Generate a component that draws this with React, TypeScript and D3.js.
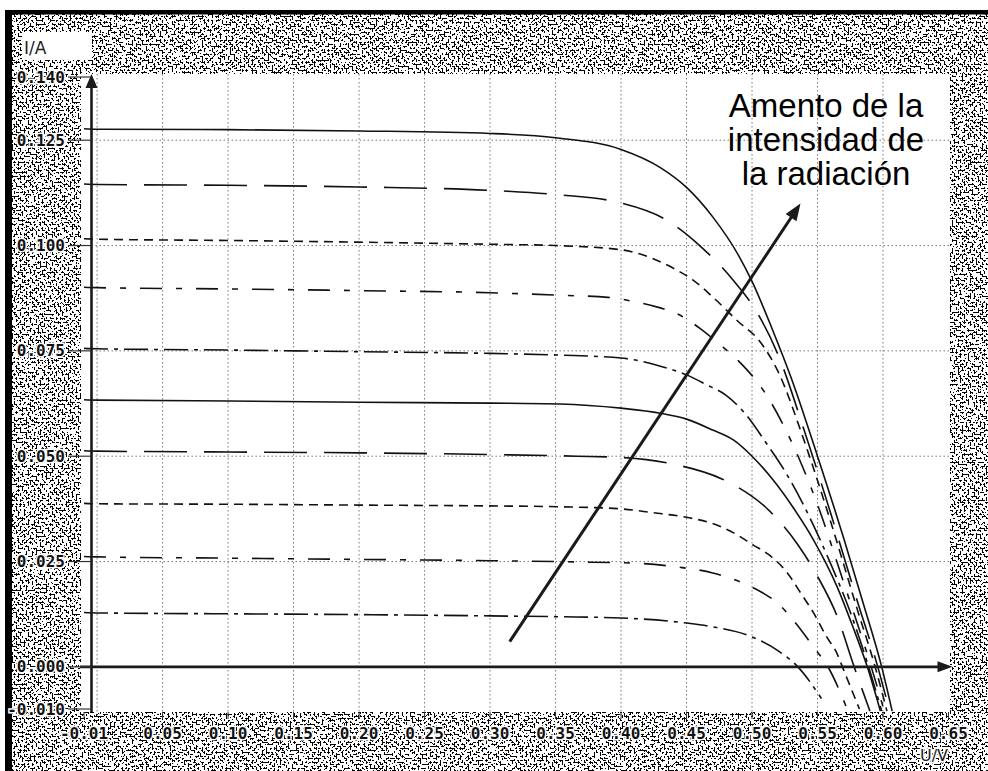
import React from "react";
import * as d3 from "d3";

const W = 988;
const H = 771;

// I-V curves of one cell at ten irradiance levels (U in V, I in A)
const curve1 = [[-0.01, 0.1277], [0, 0.1276], [0.1, 0.1275], [0.2, 0.1272], [0.3, 0.1266], [0.35, 0.1256], [0.4, 0.1228], [0.43, 0.1185], [0.45, 0.1138], [0.47, 0.1068], [0.49, 0.0975], [0.5, 0.0915], [0.515, 0.0805], [0.53, 0.0685], [0.55, 0.05], [0.57, 0.0305], [0.585, 0.015], [0.599, 0], [0.607, -0.0105]];
const curve2 = [[-0.01, 0.1146], [0, 0.1145], [0.1, 0.1143], [0.2, 0.1139], [0.3, 0.1131], [0.35, 0.1121], [0.4, 0.1101], [0.435, 0.106], [0.46, 0.1], [0.485, 0.092], [0.505, 0.0835], [0.52, 0.074], [0.54, 0.056], [0.56, 0.0365], [0.58, 0.016], [0.596, 0], [0.605, -0.0105]];
const curve3 = [[-0.01, 0.1016], [0, 0.1015], [0.1, 0.1012], [0.2, 0.1008], [0.3, 0.1003], [0.35, 0.1], [0.4, 0.099], [0.425, 0.0968], [0.44, 0.0946], [0.455, 0.0918], [0.47, 0.0878], [0.49, 0.0818], [0.505, 0.0776], [0.52, 0.07], [0.54, 0.0535], [0.56, 0.0345], [0.58, 0.014], [0.594, 0], [0.603, -0.0105]];
const curve4 = [[-0.01, 0.0901], [0, 0.09], [0.1, 0.0897], [0.2, 0.0893], [0.3, 0.0888], [0.353, 0.0882], [0.39, 0.0877], [0.41, 0.0867], [0.43, 0.0852], [0.44, 0.0842], [0.46, 0.0804], [0.475, 0.0766], [0.49, 0.0725], [0.51, 0.065], [0.53, 0.0535], [0.55, 0.0385], [0.57, 0.02], [0.591, 0], [0.601, -0.0105]];
const curve5 = [[-0.01, 0.0756], [0, 0.0755], [0.1, 0.0752], [0.2, 0.0748], [0.3, 0.0744], [0.353, 0.074], [0.4, 0.0733], [0.435, 0.0709], [0.45, 0.0693], [0.465, 0.067], [0.48, 0.0645], [0.495, 0.06], [0.51, 0.0535], [0.525, 0.0465], [0.54, 0.038], [0.56, 0.0245], [0.575, 0.013], [0.589, 0], [0.599, -0.0105]];
const curve6 = [[-0.01, 0.0634], [0, 0.0633], [0.1, 0.0631], [0.2, 0.0628], [0.3, 0.0626], [0.353, 0.0624], [0.4, 0.0614], [0.43, 0.0602], [0.45, 0.0588], [0.47, 0.0562], [0.486, 0.0538], [0.5, 0.05], [0.516, 0.0444], [0.531, 0.038], [0.547, 0.0301], [0.565, 0.019], [0.577, 0.0095], [0.588, 0], [0.598, -0.0105]];
const curve7 = [[-0.01, 0.0513], [0, 0.0512], [0.1, 0.051], [0.2, 0.0508], [0.3, 0.0504], [0.366, 0.05], [0.4, 0.0497], [0.44, 0.0481], [0.477, 0.0446], [0.49, 0.0425], [0.51, 0.038], [0.535, 0.029], [0.55, 0.0215], [0.565, 0.012], [0.578, 0], [0.59, -0.0105]];
const curve8 = [[-0.01, 0.0388], [0, 0.0387], [0.1, 0.0386], [0.2, 0.0384], [0.3, 0.0382], [0.353, 0.038], [0.4, 0.0375], [0.424, 0.0366], [0.45, 0.0355], [0.468, 0.0342], [0.486, 0.0318], [0.501, 0.0289], [0.512, 0.0268], [0.527, 0.0223], [0.537, 0.0176], [0.547, 0.0128], [0.557, 0.0071], [0.565, 0.0031], [0.569, 0], [0.582, -0.01]];
const curve9 = [[-0.01, 0.0262], [0, 0.0261], [0.1, 0.0258], [0.2, 0.0255], [0.3, 0.0252], [0.366, 0.0249], [0.412, 0.0246], [0.443, 0.0237], [0.47, 0.0223], [0.493, 0.0199], [0.508, 0.0176], [0.52, 0.015], [0.529, 0.012], [0.539, 0.0081], [0.547, 0.0047], [0.558, 0], [0.572, -0.0095]];
const curve10 = [[-0.01, 0.0129], [0, 0.0128], [0.1, 0.0126], [0.2, 0.0124], [0.3, 0.0121], [0.353, 0.0119], [0.4, 0.0116], [0.45, 0.0104], [0.47, 0.0095], [0.5, 0.0071], [0.52, 0.0038], [0.535, 0], [0.553, -0.0075]];

const curves = [curve1, curve2, curve3, curve4, curve5, curve6, curve7, curve8, curve9, curve10];
const dashes = ["", "43,17", "9,6", "22,14,6,14", "24,6,4,6", "", "43,17", "9,6", "22,14,6,14", "24,6,4,6"];

const xTickVals = [-0.01, 0.05, 0.1, 0.15, 0.2, 0.25, 0.3, 0.35, 0.4, 0.45, 0.5, 0.55, 0.6, 0.65];
const xTickLabels = ["-0.01", "0.05", "0.10", "0.15", "0.20", "0.25", "0.30", "0.35", "0.40", "0.45", "0.50", "0.55", "0.60", "0.65"];
const xGrid = [0, 0.05, 0.1, 0.15, 0.2, 0.25, 0.3, 0.35, 0.4, 0.45, 0.5, 0.55, 0.6];
const yTickVals = [-0.01, 0, 0.025, 0.05, 0.075, 0.1, 0.125, 0.14];
const yTickLabels = ["-0.010", "0.000", "0.025", "0.050", "0.075", "0.100", "0.125", "0.140"];
const yGrid = [0.025, 0.05, 0.075, 0.1, 0.125];

const arrowPts = [[0.315, 0.006], [0.537, 0.110]];
const noteLines = ["Amento de la", "intensidad de", "la radiación"];
const noteAt = [0.5565, 0.1305];

const box = { left: 81, top: 74, right: 950, bottom: 712 };

const App = () => {
  const x = d3.scaleLinear().domain([-0.01, 0.65]).range([84, 948.5]);
  const y = d3.scaleLinear().domain([-0.01, 0.14]).range([709, 77]);

  const line = d3
    .line<number[]>()
    .x((d) => x(d[0]))
    .y((d) => y(d[1]))
    .curve(d3.curveMonotoneX);

  const axisX = 91.5;
  const tickFont = "DejaVu Sans Mono, monospace";

  // annotation arrow head
  const [a0, a1] = arrowPts;
  const ax0 = x(a0[0]), ay0 = y(a0[1]), ax1 = x(a1[0]), ay1 = y(a1[1]);
  const ang = Math.atan2(ay1 - ay0, ax1 - ax0);
  const hl = 17, hw = 6.5;
  const head = [
    [ax1, ay1],
    [ax1 - hl * Math.cos(ang) + hw * Math.sin(ang), ay1 - hl * Math.sin(ang) - hw * Math.cos(ang)],
    [ax1 - hl * Math.cos(ang) - hw * Math.sin(ang), ay1 - hl * Math.sin(ang) + hw * Math.cos(ang)],
  ];

  return (
    <svg width={W} height={H} style={{ position: "absolute", left: 0, top: 0 }}>
      <defs>
        <filter id="scan" x="0" y="0" width="1" height="1" colorInterpolationFilters="sRGB">
          <feTurbulence type="fractalNoise" baseFrequency="0.5" numOctaves="3" seed="7" result="t" />
          <feColorMatrix in="t" type="matrix" values="0 0 0 0 0  0 0 0 0 0  0 0 0 0 0  -4 0 0 0 2.36" result="a" />
          <feComponentTransfer in="a">
            <feFuncA type="discrete" tableValues="0 1" />
          </feComponentTransfer>
        </filter>
        <clipPath id="plot">
          <rect x={box.left} y={box.top} width={box.right - box.left} height={box.bottom - box.top} />
        </clipPath>
      </defs>

      <rect width={W} height={H} fill="#fff" />
      <rect x={12} y={14} width={W - 12} height={H - 14} fill="#111" filter="url(#scan)" />
      <rect x={5} y={10} width={W - 5} height={4.5} fill="#000" />
      <rect x={5} y={10} width={7} height={H - 10} fill="#000" />

      <rect x={box.left} y={box.top} width={box.right - box.left} height={box.bottom - box.top} fill="#fff" />

      {/* grid */}
      <g stroke="#555" strokeWidth={1} strokeDasharray="1.5,2.5" opacity={0.8}>
        {xGrid.map((v) => (
          <line key={"gx" + v} x1={x(v)} x2={x(v)} y1={box.top} y2={box.bottom + 6} />
        ))}
        {yGrid.map((v) => (
          <line key={"gy" + v} x1={axisX} x2={box.right} y1={y(v)} y2={y(v)} />
        ))}
      </g>

      {/* curves */}
      <g clipPath="url(#plot)" fill="none" stroke="#111" strokeWidth={1.6}>
        {curves.map((c, i) => (
          <path key={i} d={line(c) || ""} strokeDasharray={dashes[i] || undefined} />
        ))}
      </g>

      {/* axes */}
      <g stroke="#1a1a1a" strokeWidth={2.6}>
        <line x1={axisX} x2={axisX} y1={box.bottom} y2={y(0.14) + 8} />
        <line x1={box.left - 1} x2={x(0.65) - 10} y1={y(0)} y2={y(0)} />
      </g>
      <path d={`M${axisX},${y(0.14) - 3} L${axisX - 6},${y(0.14) + 11} L${axisX + 6},${y(0.14) + 11} Z`} fill="#1a1a1a" />
      <path d={`M${x(0.65) + 4},${y(0)} L${x(0.65) - 11},${y(0) - 5.5} L${x(0.65) - 11},${y(0) + 5.5} Z`} fill="#1a1a1a" />

      {/* y ticks and labels */}
      {yTickVals.map((v, i) => (
        <g key={"yt" + v}>
          <line x1={68} x2={axisX} y1={y(v)} y2={y(v)} stroke="#333" strokeWidth={1.2} />
          <text
            x={65}
            y={y(v) + 5.5}
            textAnchor="end"
            fontFamily={tickFont}
            fontSize={16}
            fontWeight="bold"
            fill="#111"
            stroke="#fff"
            strokeWidth={3}
            paintOrder="stroke"
          >
            {yTickLabels[i]}
          </text>
        </g>
      ))}

      {/* x ticks and labels */}
      {xTickVals.map((v, i) => (
        <g key={"xt" + v}>
          <line x1={x(v)} x2={x(v)} y1={box.bottom} y2={box.bottom + 7} stroke="#333" strokeWidth={1} />
          <text
            x={x(v)}
            y={739}
            textAnchor="middle"
            fontFamily={tickFont}
            fontSize={16}
            fontWeight="bold"
            fill="#111"
            stroke="#fff"
            strokeWidth={3}
            paintOrder="stroke"
          >
            {xTickLabels[i]}
          </text>
        </g>
      ))}

      <text x={934} y={761} textAnchor="middle" fontFamily="DejaVu Sans, sans-serif" fontSize={16} fill="#222" stroke="#fff" strokeWidth={3} paintOrder="stroke">
        U/V
      </text>

      <rect x={22} y={32} width={70} height={28} fill="#fff" />
      <text x={24} y={54} fontFamily="DejaVu Sans, sans-serif" fontSize={17} fill="#222">
        I/A
      </text>

      {/* annotation */}
      <line x1={ax0} y1={ay0} x2={ax1 - 10 * Math.cos(ang)} y2={ay1 - 10 * Math.sin(ang)} stroke="#1a1a1a" strokeWidth={3} />
      <path d={d3.line()(head as [number, number][]) + "Z"} fill="#1a1a1a" />
      {noteLines.map((t, i) => (
        <text
          key={t}
          x={x(noteAt[0])}
          y={y(noteAt[1]) + i * 34}
          textAnchor="middle"
          fontFamily="Liberation Sans, Arial, sans-serif"
          fontSize={33}
          fill="#000"
        >
          {t}
        </text>
      ))}
    </svg>
  );
};

export default App;
